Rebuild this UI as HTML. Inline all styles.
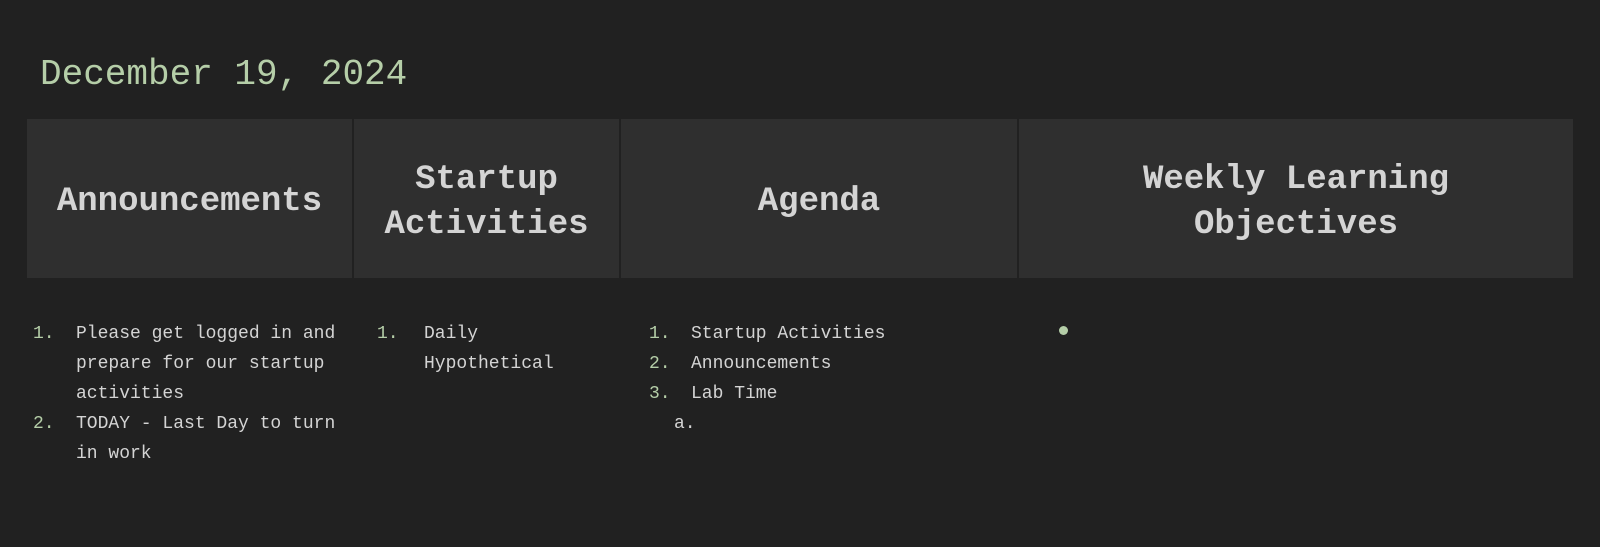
<!DOCTYPE html>
<html><head><style>
*{margin:0;padding:0;box-sizing:border-box}
body{width:1600px;height:547px;background:#212121;font-family:"Liberation Mono",monospace;color:#d4d4d4;position:relative;overflow:hidden}
.t{position:absolute;left:40px;top:53px;font-size:36px;color:#b5cea8;line-height:44px}
.h{position:absolute;top:119px;height:159px;background:#2f2f2f;display:flex;align-items:center;justify-content:center;text-align:center;font-weight:bold;font-size:34px;line-height:45px;color:#d4d4d4;padding-top:8px}
.l{position:absolute;font-size:18px;line-height:30px}
.n{position:absolute;color:#b5cea8}
</style></head><body>
<div class="t">December 19, 2024</div>
<div class="h" style="left:27px;width:325px">Announcements</div>
<div class="h" style="left:354px;width:265px">Startup<br>Activities</div>
<div class="h" style="left:621px;width:396px">Agenda</div>
<div class="h" style="left:1019px;width:554px">Weekly Learning<br>Objectives</div>

<div class="l" style="left:0;top:319px">
<span class="n" style="left:33px;top:0">1.</span>
<span style="position:absolute;left:76px;top:0;white-space:nowrap">Please get logged in and<br>prepare for our startup<br>activities</span>
<span class="n" style="left:33px;top:90px">2.</span>
<span style="position:absolute;left:76px;top:90px;white-space:nowrap">TODAY - Last Day to turn<br>in work</span>
<span class="n" style="left:377px;top:0">1.</span>
<span style="position:absolute;left:424px;top:0;white-space:nowrap">Daily<br>Hypothetical</span>
<span class="n" style="left:649px;top:0">1.</span>
<span class="n" style="left:649px;top:30px">2.</span>
<span class="n" style="left:649px;top:60px">3.</span>
<span style="position:absolute;left:691px;top:0;white-space:nowrap">Startup Activities<br>Announcements<br>Lab Time</span>
<span style="position:absolute;left:674px;top:90px">a.</span>
</div>
<div style="position:absolute;left:1059px;top:326px;width:9px;height:9px;border-radius:50%;background:#b5cea8"></div>
</body></html>
